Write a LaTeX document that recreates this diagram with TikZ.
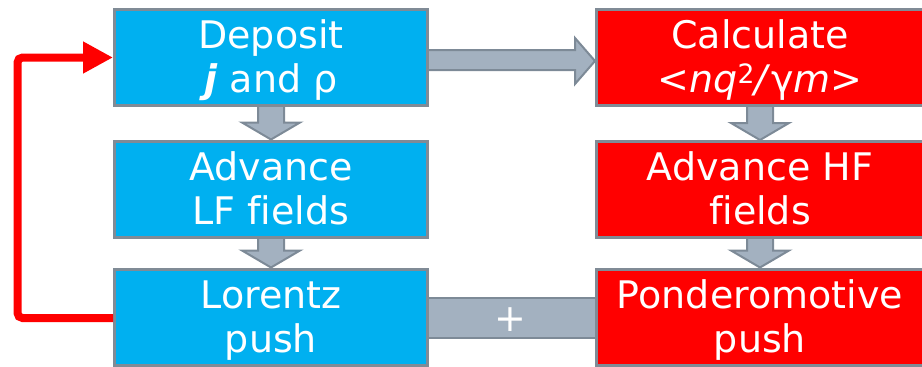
\documentclass[tikz,border=0pt]{standalone}
\usepackage{fontspec}
\setmainfont[Ligatures=NoCommon]{DejaVu Sans}
\usetikzlibrary{arrows.meta,backgrounds,calc}
\definecolor{boxblue}{HTML}{00B0F0}
\definecolor{boxred}{HTML}{FF0000}
\definecolor{boxline}{HTML}{808B96}
\definecolor{arrfill}{HTML}{A3B1C0}
\definecolor{arrline}{HTML}{7D8A97}
\newcommand\topstrut{\rule{0pt}{35pt}}
\newcommand\botstrut{\rule[-9pt]{0pt}{9pt}}
% fat downward arrow from box #1 to box #2
\newcommand\fatdown[2]{%
  \draw[fatarrow] ([xshift=-13pt,yshift=5pt]#1.south)
    -- ([xshift=-13pt,yshift=17pt]#2.north)
    -- ([xshift=-29pt,yshift=17pt]#2.north)
    -- (#2.north)
    -- ([xshift=29pt,yshift=17pt]#2.north)
    -- ([xshift=13pt,yshift=17pt]#2.north)
    -- ([xshift=13pt,yshift=5pt]#1.south) -- cycle;}
\begin{document}
\begin{tikzpicture}[x=1pt,y=-1pt,
  flowbox/.style={draw=boxline, line width=3pt, text=white, minimum height=96pt,
    inner sep=0pt, align=center, font=\fontsize{38}{44}\selectfont},
  bluebox/.style={flowbox, fill=boxblue, minimum width=313pt},
  redbox/.style={flowbox, fill=boxred, minimum width=327pt},
  fatarrow/.style={fill=arrfill, draw=arrline, line width=2pt, line join=miter},
  loopline/.style={draw=boxred, line width=8pt, rounded corners=5pt,
    -{Triangle[length=30pt,width=30pt]}},
  plussign/.style={text=white, inner sep=0pt, font=\fontsize{38}{38}\selectfont}]
\useasboundingbox (0,0) rectangle (922,367);

\node[bluebox] (dep) at (271,57.5) {\topstrut Deposit\\ \textbf{\textit{j}} and ρ\botstrut};
\node[bluebox] (adv) at (271,189) {\topstrut Advance\\ LF fields\botstrut};
\node[bluebox] (lor) at (271,317) {\topstrut Lorentz\\ push\botstrut};
\node[redbox] (calc) at (760,57.5) {\topstrut Calculate\\ <\textit{nq}\textsuperscript{2}\textit{/}γ\textit{m}>\botstrut};
\node[redbox] (hf) at (760,189.5) {\topstrut Advance HF\\ fields\botstrut};
\node[redbox] (pond) at (760,317) {\topstrut Ponderomotive\\ push\botstrut};

\begin{scope}[on background layer]
  \fatdown{dep}{adv}
  \fatdown{adv}{lor}
  \fatdown{calc}{hf}
  \fatdown{hf}{pond}
  \draw[fatarrow] ([xshift=-5pt,yshift=7.5pt]dep.east)
    -- ([xshift=-20pt,yshift=7.5pt]calc.west)
    -- ([xshift=-20pt,yshift=19.5pt]calc.west)
    -- ([yshift=-3.5pt]calc.west)
    -- ([xshift=-20pt,yshift=-26.5pt]calc.west)
    -- ([xshift=-20pt,yshift=-12.5pt]calc.west)
    -- ([xshift=-5pt,yshift=-12.5pt]dep.east) -- cycle;
  \draw[fatarrow] ([xshift=-5pt,yshift=19pt]lor.east) rectangle ([xshift=5pt,yshift=-21pt]pond.west);
\end{scope}
\node[plussign] (plus) at ($(lor.east)!0.5!(pond.west)+(-2,3)$) {+};

\draw[loopline] ([yshift=-1pt]lor.west) -- ++(-95.5,0) |- (dep.west);
\end{tikzpicture}
\end{document}
